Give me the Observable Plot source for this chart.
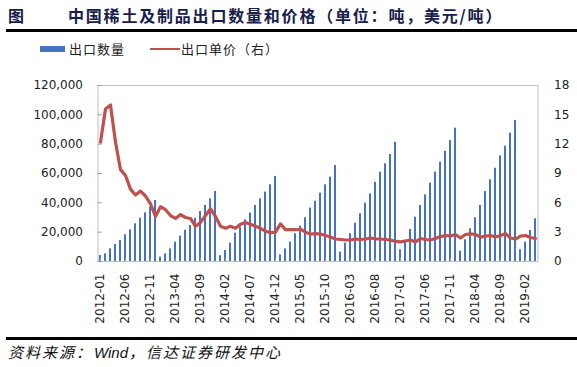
<!DOCTYPE html>
<html>
<head>
<meta charset="utf-8">
<script src="https://cdn.jsdelivr.net/npm/d3@7"></script>
<script src="https://cdn.jsdelivr.net/npm/@observablehq/plot@0.6"></script>
<style>
  html, body { margin: 0; padding: 0; background: #fff; }
  #page { position: relative; width: 577px; height: 367px; overflow: hidden; font-family: "Noto Sans CJK SC", "DejaVu Sans", sans-serif; }
  .abs { position: absolute; white-space: nowrap; }
  #fig { left: 8px; top: 4px; font-size: 16px; font-weight: bold; color: #17204a; line-height: 22px; }
  #title { left: 68px; top: 4px; font-size: 16px; font-weight: bold; color: #17204a; letter-spacing: 1.8px; line-height: 22px; }
  #rule1 { left: 6px; right: 0; top: 29px; height: 3px; background: #000; }
  #rule2 { left: 6px; right: 0; top: 337px; height: 3px; background: #000; }
  #caption { left: 8px; top: 341px; font-size: 15px; font-style: italic; letter-spacing: 2px; color: #111; line-height: 22px; }
  #caption .en { font-family: "Liberation Sans", Arial, sans-serif; letter-spacing: 0; margin: 0 1px; }
  .leg { top: 40px; font-size: 13px; letter-spacing: 1px; color: #222; line-height: 18px; }
  #chart { left: 0; top: 70px; }
</style>
</head>
<body>
<div id="page">
  <div class="abs" id="fig">图</div>
  <div class="abs" id="title">中国稀土及制品出口数量和价格（单位：吨，美元/吨）</div>
  <div class="abs" id="rule1"></div>
  <div class="abs" style="left:40px;top:46px;width:25px;height:6px;background:#4472c4"></div>
  <div class="abs leg" style="left:69px">出口数量</div>
  <div class="abs" style="left:150px;top:48px;width:30px;height:2px;background:#c0504d"></div>
  <div class="abs leg" style="left:181px">出口单价（右）</div>
  <div class="abs" id="chart"></div>
  <div class="abs" id="rule2"></div>
  <div class="abs" id="caption">资料来源：<span class="en">Wind</span>，信达证券研发中心</div>
</div>
<script>
// Export quantity (tonnes, cumulative within each year)
const qty2012 = [4000, 5200, 8600, 11600, 14300, 18200, 21600, 25700, 29500, 33200, 37000, 41600];
const qty2013 = [3000, 5200, 8600, 13200, 17300, 21300, 24500, 29500, 34000, 38200, 42700, 47700];
const qty2014 = [4000, 7500, 12500, 19300, 23400, 28400, 33000, 38200, 42700, 47300, 52300, 58000];
const qty2015 = [4500, 8600, 13200, 18900, 24100, 29800, 36400, 41100, 46600, 52300, 57500, 65400];
const qty2016 = [6400, 12500, 18900, 26100, 32500, 39800, 46100, 54000, 60900, 66600, 72900, 81300];
const qty2017 = [8000, 14500, 21800, 30200, 38200, 45400, 53400, 60900, 67700, 75200, 82500, 90900];
const qty2018 = [7000, 14800, 22300, 29800, 38200, 47700, 55700, 63600, 72000, 78600, 87500, 96100];
const qty2019 = [8000, 13200, 21100, 29100];

// Unit price (right axis, 0-18)
const price2012 = [12.2, 15.6, 16.0, 12.2, 9.4, 8.8, 7.4, 6.8, 7.2, 6.7, 5.9, 4.6];
const price2013 = [5.6, 5.3, 4.7, 4.4, 4.8, 4.5, 4.4, 3.6, 4.0, 4.7, 5.4, 4.6];
const price2014 = [3.6, 3.4, 3.6, 3.4, 3.8, 4.0, 3.8, 3.6, 3.4, 3.1, 2.95, 3.0];
const price2015 = [3.85, 3.25, 3.25, 3.25, 3.3, 3.0, 2.8, 2.85, 2.8, 2.65, 2.5, 2.3];
const price2016 = [2.25, 2.2, 2.2, 2.3, 2.25, 2.3, 2.4, 2.3, 2.3, 2.25, 2.2, 2.05];
const price2017 = [2.0, 2.1, 2.2, 2.0, 2.35, 2.25, 2.2, 2.35, 2.55, 2.66, 2.6, 2.76];
const price2018 = [2.4, 2.76, 2.83, 2.76, 2.5, 2.6, 2.66, 2.5, 2.66, 2.85, 2.4, 2.3];
const price2019 = [2.6, 2.66, 2.45, 2.35];

const years = [2012, 2013, 2014, 2015, 2016, 2017, 2018, 2019];
const qtyByYear = [qty2012, qty2013, qty2014, qty2015, qty2016, qty2017, qty2018, qty2019];
const priceByYear = [price2012, price2013, price2014, price2015, price2016, price2017, price2018, price2019];

const leftTicks = [0, 20000, 40000, 60000, 80000, 100000, 120000];
const rightTicks = [0, 3, 6, 9, 12, 15, 18];

const data = [];
years.forEach((yr, yi) => {
  qtyByYear[yi].forEach((q, mi) => {
    data.push({month: `${yr}-${String(mi + 1).padStart(2, "0")}`, qty: q, price: priceByYear[yi][mi]});
  });
});
const months = data.map(d => d.month);
const xTicks = months.filter((d, i) => i % 5 === 0);

const yMax = 120000, pMax = 18;
const k = yMax / pMax;

const chart = Plot.plot({
  width: 577,
  height: 270,
  marginTop: 15,
  marginBottom: 79,
  marginLeft: 97.5,
  marginRight: 39.5,
  style: {fontFamily: "DejaVu Sans, sans-serif", fontSize: "12px", color: "#222", background: "transparent"},
  x: {type: "band", domain: months, paddingInner: 0.56, paddingOuter: 0.28, label: null},
  y: {domain: [0, yMax], label: null},
  marks: [
    Plot.barY(data, {x: "month", y: "qty", fill: "#4472c4"}),
    Plot.line(data, {x: "month", y: d => d.price * k, stroke: "#c0504d", strokeWidth: 3.2, strokeLinejoin: "round", strokeLinecap: "round"}),
    Plot.frame({stroke: "#bfbfbf"}),
    Plot.axisY(leftTicks, {anchor: "left", tickFormat: d3.format(","), tickSize: 0, tickPadding: 15, fontSize: 12, label: null}),
    Plot.axisY(leftTicks, {anchor: "left", tickFormat: () => "", tickSize: -4, stroke: "#999", label: null}),
    Plot.axisY(rightTicks.map(v => v * k), {anchor: "right", tickFormat: d => String(Math.round(d / k)), tickSize: 0, tickPadding: 16, fontSize: 12, label: null}),
    Plot.axisX(xTicks, {anchor: "bottom", tickRotate: -90, tickSize: 0, tickPadding: 12, fontSize: 12, label: null}),
    Plot.axisX(xTicks, {anchor: "bottom", tickFormat: () => "", tickSize: -3, stroke: "#999", label: null})
  ]
});
document.getElementById("chart").appendChild(chart);
</script>
</body>
</html>
